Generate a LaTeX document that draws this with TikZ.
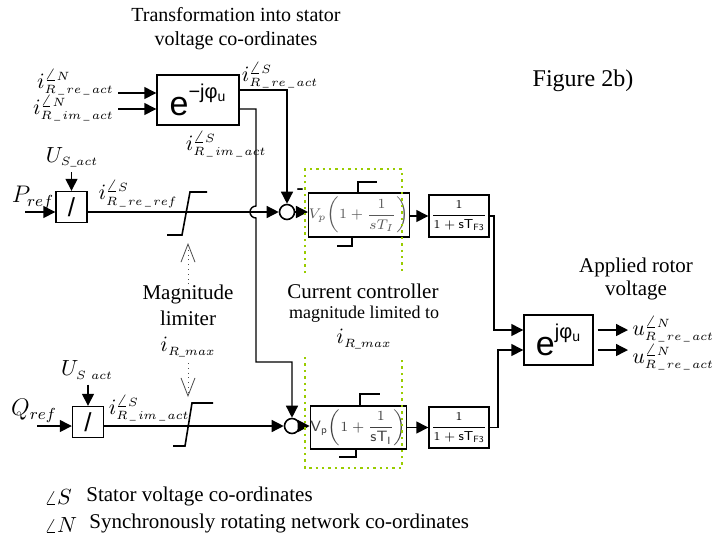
\documentclass[tikz,border=0pt]{standalone}
\usepackage{amsmath}
\usepackage{fontspec}
\setmainfont{Liberation Serif}
\newfontfamily\arialfont{Liberation Sans}
\usetikzlibrary{arrows.meta}
\definecolor{limegreen}{RGB}{153,204,0}
\DeclareMathSizes{11}{11}{5.8}{4.5}
\newcommand{\usb}{\,\_\,}

\begin{document}
\begin{tikzpicture}[x=0.5pt, y=-0.5pt,
  every node/.style={font=\fontsize{10.5}{13}\selectfont},
  blk/.style={draw, line width=0.7pt, inner sep=0pt, align=center},
  sumpt/.style={draw, circle, line width=0.8pt, minimum size=7.5pt, inner sep=0pt},
  arr/.style={-{Triangle[length=6pt, width=6pt]}, line width=0.7pt},
  lim/.style={line width=0.8pt},
  hint/.style={dotted, black!70, line width=0.4pt,
    -{Straight Barb[length=9pt, width=7pt, line width=0.4pt]}},
  frame/.style={dotted, limegreen, line width=1.2pt},
  lbl/.style={inner sep=0pt},
  sym/.style={inner sep=0pt, font=\fontsize{11}{13}\selectfont}
]
  \useasboundingbox (0,0) rectangle (718,538);

  % blocks
  \node[blk, minimum width=41pt, minimum height=25pt] (trf) at (198,100)
    {\arialfont\fontsize{17}{17}\selectfont e\raisebox{0.5em}{\fontsize{10}{10}\selectfont −jφ\textsubscript{u}}};
  \node[blk, minimum width=34.5pt, minimum height=25pt] (rot) at (558.5,340)
    {\arialfont\fontsize{17}{17}\selectfont e\raisebox{0.5em}{\fontsize{10}{10}\selectfont jφ\textsubscript{u}}};
  \node[blk, minimum size=15.5pt] (div1) at (71.5,207) {\arialfont\fontsize{13}{13}\selectfont /};
  \node[blk, minimum size=15.5pt] (div2) at (88,422) {\arialfont\fontsize{13}{13}\selectfont /};
  \node[sumpt] (s1) at (287,212) {};
  \node[sumpt] (s2) at (292,426) {};
  \node[blk, minimum width=37pt, minimum height=22pt, font=\fontsize{7.5}{9}\selectfont,
    text=black!65] (pi1) at (359,215) {$V_p\!\left(1+\dfrac{1}{sT_I}\right)$};
  \node[blk, minimum width=38.5pt, minimum height=21.5pt, font=\fontsize{7.5}{9}\selectfont,
    text=black!75] (pi2) at (358.5,427.5)
    {$\mathsf{V}_{\mathsf{p}}\!\left(1+\dfrac{1}{\mathsf{sT}_{\mathsf{I}}}\right)$};
  \node[blk, minimum width=30pt, minimum height=21pt, font=\fontsize{6.5}{8}\selectfont]
    (f1) at (459,216) {$\dfrac{1}{1+\mathsf{sT}_{\mathsf{F3}}}$};
  \node[blk, minimum width=30pt, minimum height=20.5pt, font=\fontsize{6.5}{8}\selectfont]
    (f2) at (459,427.5) {$\dfrac{1}{1+\mathsf{sT}_{\mathsf{F3}}}$};

  % labels
  \node[sym, anchor=east] (iN1) at (114,82) {$i^{\angle N}_{R\usb re\usb act}$};
  \node[sym, anchor=east] (iN2) at (114,108) {$i^{\angle N}_{R\usb im\usb act}$};
  \node[sym] (iS1) at (280,75) {$i^{\angle S}_{R\usb re\usb act}$};
  \node[sym] (iS2) at (226,144) {$i^{\angle S}_{R\usb im\usb act}$};
  \node[sym] (iS3) at (138,194) {$i^{\angle S}_{R\usb re\usb ref}$};
  \node[sym] (iS4) at (149,408) {$i^{\angle S}_{R\usb im\usb act}$};
  \node[sym] (usa1) at (72,157) {$U_{S\_act}$};
  \node[sym] (usa2) at (87,370) {$U_{S\ act}$};
  \node[sym, font=\fontsize{12}{14}\selectfont] (pref) at (33,198) {$P_{ref}$};
  \node[sym, font=\fontsize{12}{14}\selectfont] (qref) at (34,411) {$Q_{ref}$};
  \node[lbl] (neg) at (300,192) {\textbf{-}};
  \node[sym, anchor=west] (u1) at (632,329) {$u^{\angle N}_{R\usb re\usb act}$};
  \node[sym, anchor=west] (u2) at (632,357) {$u^{\angle N}_{R\usb re\usb act}$};

  \node[align=center, font=\fontsize{10}{12}\selectfont] (title) at (236,29)
    {Transformation into stator\\voltage co-ordinates};
  \node[font=\fontsize{12}{14}\selectfont] (fig) at (583,81) {Figure 2b)};
  \node[align=center, font=\fontsize{10.5}{11.5}\selectfont] (apl) at (636,279) {Applied rotor\\voltage};
  \node[lbl, align=center] (mag) at (188,305) {Magnitude\\limiter};
  \node[sym] (imax1) at (188,347) {$i_{R\_max}$};
  \node (cc) at (363,291) {Current controller};
  \node[font=\fontsize{9}{11}\selectfont] (cc2) at (364,314) {magnitude limited to};
  \node[sym] (imax2) at (364,339) {$i_{R\_max}$};

  \node[lbl, anchor=west] (angS) at (44,497) {$\angle S$};
  \node[lbl, anchor=west] (legS) at (86,496) {Stator voltage co-ordinates};
  \node[lbl, anchor=west] (angN) at (44,525) {$\angle N$};
  \node[lbl, anchor=west] (legN) at (89,523) {Synchronously rotating network co-ordinates};

  % coordinates
  \coordinate (in1) at (118,93);
  \coordinate (in2) at (118,109);
  \coordinate (t1) at (287,90);
  \coordinate (t2) at (256,109);
  \coordinate (hop) at (256,206);
  \coordinate (t3) at (256,362);
  \coordinate (pin) at (25,212);
  \coordinate (qin) at (37,426);
  \coordinate (c1) at (494,330);
  \coordinate (c2) at (498,350);
  \coordinate (o1) at (628,330);
  \coordinate (o2) at (628,350);
  \coordinate (lim1) at (189,243);
  \coordinate (lim2) at (189,397);

  % connectors
  \draw[arr] (in1) -- (trf.west |- in1);
  \draw[arr] (in2) -- (trf.west |- in2);
  \draw[arr] (trf.east |- t1) -| (s1);
  \draw[arr] (trf.east |- t2) -- (t2) -- (hop)
    arc[start angle=90, end angle=270, radius=3pt] -- (t3) -| (s2);
  \draw[arr] (pin) -- (div1.west |- pin);
  \draw[arr] (div1.east |- s1) -- (s1);
  \draw[arr] ([yshift=-2.5pt]usa1.south -| div1.north) -- (div1.north);
  \draw[arr] (qin) -- (div2.west |- qin);
  \draw[arr] (div2.east |- s2) -- (s2);
  \draw[arr] ([yshift=-2.5pt]usa2.south -| div2.north) -- (div2.north);
  \draw[arr] (s1) -- (pi1.west |- s1);
  \draw[arr] (pi1.east |- f1) -- (f1.west);
  \draw[arr] (s2) -- (pi2.west |- s2);
  \draw[arr] (pi2.east |- f2) -- (f2.west);
  \draw[arr] (f1.east) -| (c1) -- (rot.west |- c1);
  \draw[arr] (f2.east) -| (c2) -- (rot.west |- c2);
  \draw[arr] ([xshift=2pt]rot.east |- o1) -- (o1);
  \draw[arr] ([xshift=2pt]rot.east |- o2) -- (o2);
  \draw[hint] (mag.north) -- (mag.north |- lim1);
  \draw[hint, shorten <=3pt] (imax1.south) -- (imax1.south |- lim2);

  % limiters
  \draw[lim] (167,235) -- (182,235) -- (190,192) -- (207,192);
  \draw[lim] (173,446) -- (185,446) -- (192,403) -- (213,403);
  \draw[lim] (358,193) -- (358,182) -- (377,182);
  \draw[lim] (352,237) -- (352,246) -- (337,246);
  \draw[lim] (360,406) -- (360,394) -- (380,394);
  \draw[lim] (356,449) -- (356,457) -- (339,457);

  % controller frame
  \draw[frame] (305,273) -- (305,169) -- (402,169) -- (402,273);
  \draw[frame] (305,357) -- (305,468) -- (402,468) -- (402,357);
\end{tikzpicture}
\end{document}
